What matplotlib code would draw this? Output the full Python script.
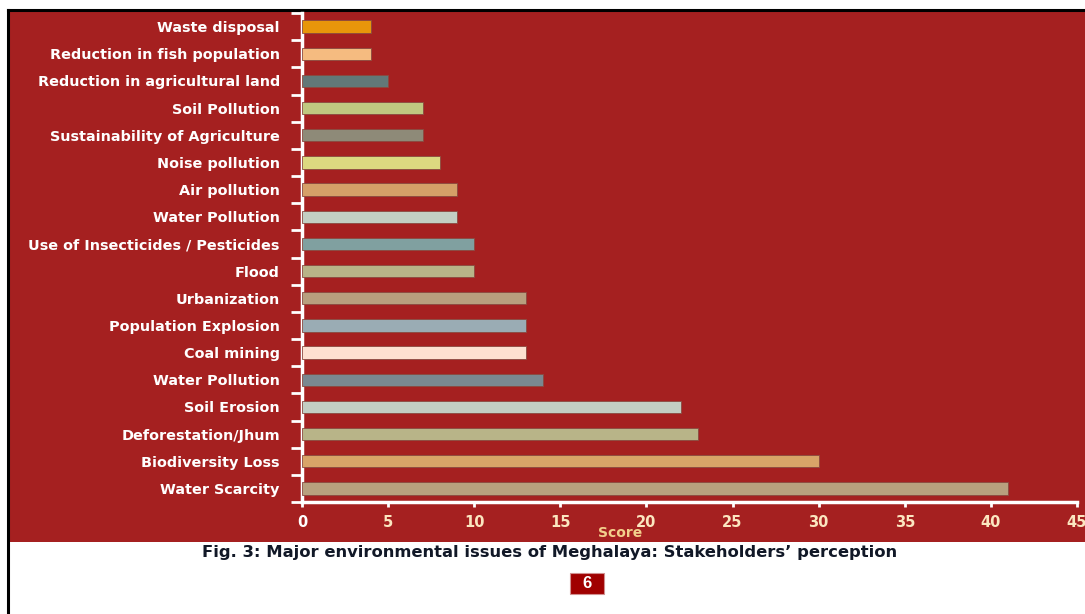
import numpy as np
import matplotlib
matplotlib.use('Agg')
import matplotlib.pyplot as plt
from matplotlib.patches import Rectangle
from matplotlib.lines import Line2D

# categories listed bottom -> top
issues = ['Water Scarcity', 'Biodiversity Loss', 'Deforestation/Jhum', 'Soil Erosion',
          'Water Pollution', 'Coal mining', 'Population Explosion', 'Urbanization',
          'Flood', 'Use of Insecticides / Pesticides', 'Water Pollution', 'Air pollution',
          'Noise pollution', 'Sustainability of Agriculture', 'Soil Pollution',
          'Reduction in agricultural land', 'Reduction in fish population', 'Waste disposal']
scores = [41, 30, 23, 22, 14, 13, 13, 13, 10, 10, 9, 9, 8, 7, 7, 5, 4, 4]
bar_colors = ['#b8a07e', '#d8a468', '#b8b488', '#c3cec3', '#7a8890', '#fde0d0',
              '#9aacb4', '#b89f7e', '#b8b488', '#80a0a0', '#c3cfc3', '#d5a068',
              '#dcd880', '#8e8a78', '#c0c880', '#627878', '#f5bb80', '#e8960a']
xticks = [0, 5, 10, 15, 20, 25, 30, 35, 40, 45]

RED = '#a52020'
W, H = 1085, 614

fig = plt.figure(figsize=(W / 100, H / 100), dpi=100)
fig.patch.set_facecolor('white')

# red panel + black frame lines
fig.patches.append(Rectangle((8 / W, 1 - 542 / H), (W - 8) / W, (542 - 10) / H,
                             transform=fig.transFigure, facecolor=RED, edgecolor='none', zorder=-5))
fig.lines.append(Line2D([8 / W, 1], [1 - 9.5 / H, 1 - 9.5 / H], transform=fig.transFigure,
                        color='black', lw=2.2, zorder=-4))
fig.lines.append(Line2D([7.5 / W, 7.5 / W], [0, 1 - 9.5 / H], transform=fig.transFigure,
                        color='black', lw=2.2, zorder=-4))

ax = fig.add_axes([302 / W, 1 - 502 / H, 775 / W, 489 / H])
ax.set_facecolor('none')
ax.set_zorder(2)

y = np.arange(len(issues))
ax.barh(y, scores, height=0.46, color=bar_colors, edgecolor='#8a4a40', linewidth=0.6, zorder=3)

ax.set_xlim(0, 45)
ax.set_ylim(-0.5, len(issues) - 0.5)

for s in ['top', 'right']:
    ax.spines[s].set_visible(False)
for s in ['left', 'bottom']:
    ax.spines[s].set_color('white')
    ax.spines[s].set_linewidth(2.5)

ax.set_yticks(y)
ax.set_yticklabels(issues, fontsize=10.4, fontweight='bold', color='white')
ax.set_yticks(np.arange(-0.5, len(issues), 1), minor=True)
ax.tick_params(axis='y', which='major', length=0, pad=16)
ax.tick_params(axis='y', which='minor', length=8, width=2, color='white', direction='out')

ax.set_xticks(xticks)
ax.set_xticklabels([str(v) for v in xticks], fontsize=10.5, fontweight='bold',
                   color='#fbe6c0', family=['Liberation Sans Narrow', 'DejaVu Sans'])
ax.get_xticklabels()[0].set_color('white')
ax.tick_params(axis='x', length=3.5, width=2, color='white', pad=6)

ax.set_xlabel('Score', fontsize=10, fontweight='bold', color='#f3d08c',
              family=['Liberation Sans Narrow', 'DejaVu Sans'])
ax.xaxis.set_label_coords(0.41, -0.049)

fig.text(550 / W, 1 - 553 / H,
         'Fig. 3: Major environmental issues of Meghalaya: Stakeholders\u2019 perception',
         ha='center', va='center', fontsize=11.8, fontweight='bold', color='#111827',
         family=['DejaVu Sans'])

# page number box
fig.patches.append(Rectangle((570 / W, 1 - 594 / H), 34 / W, 21 / H, transform=fig.transFigure,
                             facecolor='#a00000', edgecolor='#d09090', lw=0.8))
fig.text(587 / W, 1 - 583.5 / H, '6', ha='center', va='center', fontsize=12, fontweight='bold',
         color='white', family=['Liberation Sans', 'DejaVu Sans'])

fig.savefig('out.png', dpi=100, facecolor=fig.get_facecolor())
